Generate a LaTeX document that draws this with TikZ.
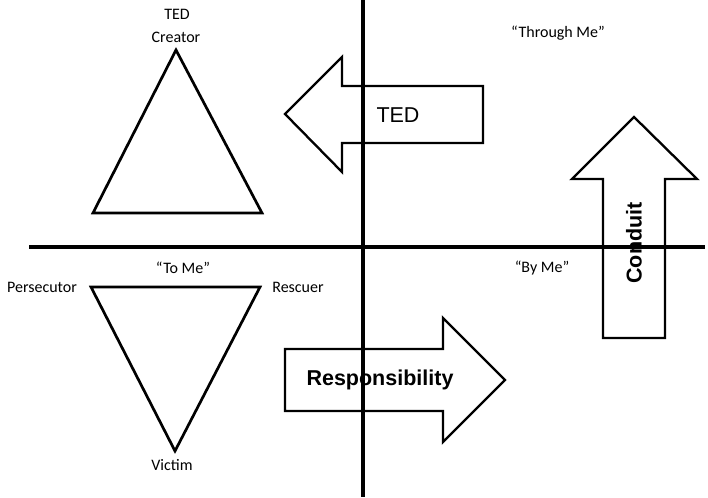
\documentclass[tikz,border=0pt]{standalone}
\usepackage{fontspec}
\setmainfont{Carlito}
\newfontfamily\arialfont{Liberation Sans}
\usepackage{tikz}
\usetikzlibrary{positioning,calc}

\tikzset{
  lbl/.style={font=\fontsize{16}{17}\selectfont, inner sep=0pt},
  arrowtext/.style={font=\arialfont\fontsize{21.5}{23}\selectfont, inner sep=0pt},
  boldarrowtext/.style={font=\arialfont\bfseries\fontsize{21.5}{23}\selectfont, inner sep=0pt},
  bigarrow/.style={line width=2.3pt, fill=white, line join=miter},
  tri/.style={line width=2.7pt, line join=miter},
  axis/.style={line width=3.4pt}
}

\begin{document}
\begin{tikzpicture}[x=1pt, y=-1pt]
  \useasboundingbox (0,0) rectangle (708,497);

  % Drama triangle (upper)
  \draw[tri] (176,50) -- (262,213) -- (93,213) -- cycle;
  \node[lbl] (ted) at (177,14) {TED};
  \node[lbl] (creator) at (176,37) {Creator};

  % Drama triangle (lower)
  \draw[tri] (91,287) -- (260,287) -- (175,451) -- cycle;
  \node[lbl] (tome) at (183,268) {``To Me''};
  \node[lbl] (persecutor) at (42,287) {Persecutor};
  \node[lbl] (rescuer) at (298,287) {Rescuer};
  \node[lbl] (victim) at (172,465) {Victim};

  % Quadrant labels
  \node[lbl] (throughme) at (558,33) {``Through Me''};
  \node[lbl] (byme) at (542,268) {``By Me''};

  % Block arrows
  \draw[bigarrow] (483,86) -- (342,86) -- (342,57) -- (285,114)
    -- (342,172) -- (342,143) -- (483,143) -- cycle;
  \node[arrowtext] (tedarrow) at (398,115) {TED};

  \draw[bigarrow] (285,349) -- (443,349) -- (443,318) -- (505,380)
    -- (443,442) -- (443,411) -- (285,411) -- cycle;
  \node[boldarrowtext] (resp) at (380,380) {Responsibility};

  \draw[bigarrow] (603,338) -- (603,179) -- (572,179) -- (634,117)
    -- (697,179) -- (665,179) -- (665,338) -- cycle;
  \node[boldarrowtext, rotate=90] (conduit) at (634,243) {Conduit};

  % Axes
  \draw[axis] (363,0) -- (363,497);
  \draw[axis] (29,247) -- (705,247);
\end{tikzpicture}
\end{document}
